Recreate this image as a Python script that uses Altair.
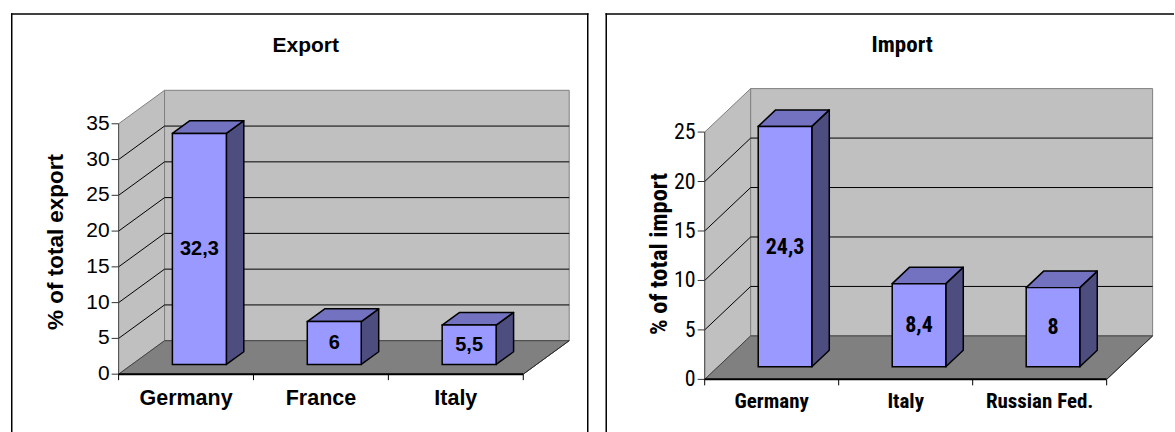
import altair as alt
import pandas as pd

# Share of total trade by main partner country, in percent
export_countries = ["Germany", "France", "Italy"]
export_share = [32.3, 6, 5.5]
export_ticks = [0, 5, 10, 15, 20, 25, 30, 35]

import_countries = ["Germany", "Italy", "Russian Fed."]
import_share = [24.3, 8.4, 8]
import_ticks = [0, 5, 10, 15, 20, 25]

# Colours of the 3-D column style
WALL = "#C0C0C0"
WALL_EDGE = "#808080"
FLOOR = "#808080"
FRONT = "#9999FF"
TOP = "#7272C0"
SIDE = "#4D4D80"

FRONT_DEPTH = 0.29   # depth of a column's front face, as a share of the floor depth
BACK_DEPTH = 0.67    # depth of a column's back face
HALF_WIDTH = 0.2     # half column width, in category units


def decimal_comma(v):
    return f"{v:g}".replace(".", ",")


def panel(title, y_title, cats, vals, ticks, g):
    n = len(cats)
    top = ticks[-1]
    W, H = g["W"], g["H"]
    # data units <-> panel pixels
    xdom = [-g["axis_x"] / g["cat_px"], (W - g["axis_x"]) / g["cat_px"]]
    ydom = [(g["base_y"] - H) / g["unit_px"], g["base_y"] / g["unit_px"]]
    dx = g["depth_x"] / g["cat_px"]
    dy = g["depth_y"] / g["unit_px"]
    xs = alt.Scale(domain=xdom, nice=False, zero=False)
    ys = alt.Scale(domain=ydom, nice=False, zero=False)

    def X(f):
        return alt.X(f, type="quantitative", scale=xs, axis=None)

    def Y(f):
        return alt.Y(f, type="quantitative", scale=ys, axis=None)

    font = g["font"]

    side_wall = alt.Chart(pd.DataFrame({
        "x": [0, dx], "y": [0, dy], "y2": [top, top + dy]})).mark_area(
        orient="vertical", fill=WALL, stroke=WALL_EDGE, strokeWidth=1
    ).encode(x=X("x"), y=Y("y"), y2="y2")

    back_wall = alt.Chart(pd.DataFrame({
        "x": [dx], "x2": [n + dx], "y": [dy], "y2": [top + dy]})).mark_rect(
        fill=WALL, stroke=WALL_EDGE, strokeWidth=1
    ).encode(x=X("x"), x2="x2", y=Y("y"), y2="y2")

    floor = alt.Chart(pd.DataFrame({
        "y": [0, dy], "x": [0, dx], "x2": [n, n + dx]})).mark_area(
        orient="horizontal", fill=FLOOR, stroke="#404040", strokeWidth=1
    ).encode(y=Y("y"), x=X("x"), x2="x2")

    inner = ticks[1:-1]
    grid_back = alt.Chart(pd.DataFrame({
        "x": [dx] * len(inner), "x2": [n + dx] * len(inner),
        "y": [t + dy for t in inner]})).mark_rule(
        color="black", strokeWidth=1
    ).encode(x=X("x"), x2="x2", y=Y("y"))

    grid_side = alt.Chart(pd.DataFrame({
        "x": [0] * len(inner), "x2": [dx] * len(inner),
        "y": inner, "y2": [t + dy for t in inner]})).mark_rule(
        color="black", strokeWidth=1
    ).encode(x=X("x"), x2="x2", y=Y("y"), y2="y2")

    # value axis: line, ticks and labels
    tick_len_x = 7 / g["cat_px"]
    y_line = alt.Chart(pd.DataFrame({"x": [0], "y": [0], "y2": [top]})).mark_rule(
        color="#505050", strokeWidth=1
    ).encode(x=X("x"), y=Y("y"), y2="y2")
    y_ticks = alt.Chart(pd.DataFrame({
        "x": [-tick_len_x] * len(ticks), "x2": [0] * len(ticks), "y": ticks})).mark_rule(
        color="#333333", strokeWidth=1
    ).encode(x=X("x"), x2="x2", y=Y("y"))
    y_labels = alt.Chart(pd.DataFrame({
        "x": [0] * len(ticks), "y": ticks, "t": [str(t) for t in ticks]})).mark_text(
        font=font, fontSize=g["ytick_size"], color="black", align="right",
        baseline="middle", dx=-9
    ).encode(x=X("x"), y=Y("y"), text="t:N")

    # category axis: line, ticks between categories and labels
    tick_len_y = 6 / g["unit_px"]
    x_line = alt.Chart(pd.DataFrame({"x": [0], "x2": [n], "y": [0]})).mark_rule(
        color="black", strokeWidth=2
    ).encode(x=X("x"), x2="x2", y=Y("y"))
    bounds = list(range(n + 1))
    x_ticks = alt.Chart(pd.DataFrame({
        "x": bounds, "y": [0] * len(bounds), "y2": [-tick_len_y] * len(bounds)})).mark_rule(
        color="black", strokeWidth=1
    ).encode(x=X("x"), y=Y("y"), y2="y2")
    x_labels = alt.Chart(pd.DataFrame({
        "x": [i + 0.5 for i in range(n)], "y": [0] * n, "t": cats})).mark_text(
        font=font, fontSize=g["xlab_size"], fontWeight="bold", color="black",
        align="center", baseline="top", dy=g["xlab_dy"]
    ).encode(x=X("x"), y=Y("y"), text="t:N")

    floor_edge = alt.Chart(pd.DataFrame({
        "x": [n], "x2": [n + dx], "y": [0], "y2": [dy]})).mark_rule(
        color="#303030", strokeWidth=1
    ).encode(x=X("x"), x2="x2", y=Y("y"), y2="y2")

    # column faces
    side_rows, top_rows, front_rows, label_rows = [], [], [], []
    for i, (c, v) in enumerate(zip(cats, vals)):
        mid = i + 0.5
        for f in (FRONT_DEPTH, BACK_DEPTH):
            side_rows.append({"k": c, "x": mid + HALF_WIDTH + f * dx,
                              "y": f * dy, "y2": v + f * dy})
            top_rows.append({"k": c, "y": v + f * dy,
                             "x": mid - HALF_WIDTH + f * dx,
                             "x2": mid + HALF_WIDTH + f * dx})
        front_rows.append({"k": c, "x": mid - HALF_WIDTH + FRONT_DEPTH * dx,
                           "x2": mid + HALF_WIDTH + FRONT_DEPTH * dx,
                           "y": FRONT_DEPTH * dy, "y2": v + FRONT_DEPTH * dy})
        label_rows.append({"k": c, "x": mid + FRONT_DEPTH * dx,
                           "y": v / 2 + FRONT_DEPTH * dy, "t": decimal_comma(v)})

    side = alt.Chart(pd.DataFrame(side_rows)).mark_area(
        orient="vertical", fill=SIDE, stroke="black", strokeWidth=1.5,
        strokeJoin="round"
    ).encode(x=X("x"), y=Y("y"), y2="y2", detail="k:N")

    topf = alt.Chart(pd.DataFrame(top_rows)).mark_area(
        orient="horizontal", fill=TOP, stroke="black", strokeWidth=1.5,
        strokeJoin="round"
    ).encode(y=Y("y"), x=X("x"), x2="x2", detail="k:N")

    front = alt.Chart(pd.DataFrame(front_rows)).mark_rect(
        fill=FRONT, stroke="black", strokeWidth=1.5
    ).encode(x=X("x"), x2="x2", y=Y("y"), y2="y2")

    labels = alt.Chart(pd.DataFrame(label_rows)).mark_text(
        font=font, fontSize=g["value_size"], fontWeight="bold", color="black",
        align="center", baseline="middle"
    ).encode(x=X("x"), y=Y("y"), text="t:N")

    heading = alt.Chart(pd.DataFrame({"t": [title]})).mark_text(
        font=font, fontSize=g["title_size"], fontWeight="bold", color="black",
        align="center", baseline="middle"
    ).encode(x=alt.value(g["title_x"]), y=alt.value(g["title_y"]), text="t:N")

    y_heading = alt.Chart(pd.DataFrame({"t": [y_title]})).mark_text(
        font=font, fontSize=g["ytitle_size"], fontWeight="bold", color="black",
        align="center", baseline="middle", angle=270
    ).encode(x=alt.value(g["ytitle_x"]), y=alt.value(g["ytitle_y"]), text="t:N")

    frame = [
        alt.Chart(pd.DataFrame({"a": [0]})).mark_rule(color="black", strokeWidth=1.5)
        .encode(x=alt.value(0.75), y=alt.value(0), y2=alt.value(H)),
        alt.Chart(pd.DataFrame({"a": [0]})).mark_rule(color="black", strokeWidth=1.5)
        .encode(x=alt.value(0), x2=alt.value(W), y=alt.value(0.75)),
    ]
    if g["right_border"]:
        frame.append(
            alt.Chart(pd.DataFrame({"a": [0]})).mark_rule(color="black", strokeWidth=1.5)
            .encode(x=alt.value(W - 0.75), y=alt.value(0), y2=alt.value(H)))

    return alt.layer(
        side_wall, back_wall, floor, grid_back, grid_side, y_line, y_ticks,
        y_labels, x_line, x_ticks, x_labels, floor_edge, side, topf, front,
        labels, heading, y_heading, *frame
    ).properties(width=W, height=H)


left_geom = dict(
    W=578, H=420, axis_x=107.7, base_y=361.3, cat_px=135, unit_px=7.16,
    depth_x=46, depth_y=33.5, font="Liberation Sans",
    xlab_dy=14, xlab_size=21.5, ytick_size=21, ytitle_size=22.5,
    ytitle_x=45, ytitle_y=229, value_size=20, title_size=21,
    title_x=295, title_y=33, right_border=True)

right_geom = dict(
    W=569, H=420, axis_x=99.3, base_y=366.5, cat_px=134.1, unit_px=9.9,
    depth_x=46, depth_y=43.5,
    font="'Liberation Sans Narrow', 'Roboto Condensed', 'Noto Sans Condensed', 'DejaVu Sans Condensed'",
    xlab_dy=12, xlab_size=21, ytick_size=22, ytitle_size=24.5,
    ytitle_x=55, ytitle_y=241, value_size=22, title_size=23,
    title_x=297, title_y=32, right_border=False)

left = panel("Export", "% of total export", export_countries, export_share,
             export_ticks, left_geom)
right = panel("Import", "% of total import", import_countries, import_share,
              import_ticks, right_geom)

chart = alt.hconcat(left, right, spacing=17, bounds="flush").properties(
    padding={"left": 10, "top": 12, "right": 0, "bottom": 0},
    background="white",
).configure_view(stroke=None)

chart.save("out.html", embed_options={"renderer": "svg", "actions": False})
